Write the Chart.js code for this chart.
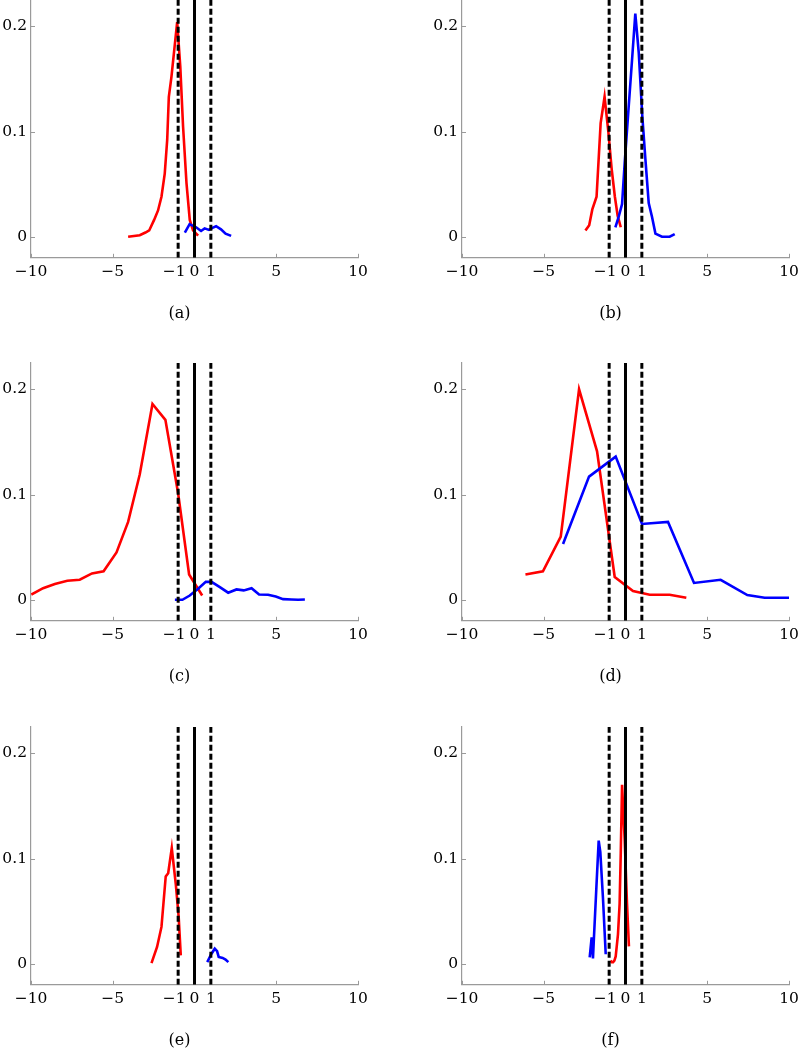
<!DOCTYPE html>
<html>
<head>
<meta charset="utf-8">
<script src="https://cdn.jsdelivr.net/npm/chart.js@4.4.0/dist/chart.umd.min.js"></script>
<style>
  html, body { margin: 0; padding: 0; background: #fff; }
  body { width: 800px; height: 1050px; overflow: hidden; position: relative; }
  canvas { position: absolute; }
</style>
</head>
<body>
<canvas id="pa"></canvas>
<canvas id="pb"></canvas>
<canvas id="pc"></canvas>
<canvas id="pd"></canvas>
<canvas id="pe"></canvas>
<canvas id="pf"></canvas>
<script>
// axes, shared by all six panels
const xTicks = [-10, -5, -1, 0, 1, 5, 10];
const yTicks = [0, 0.1, 0.2];
const xRange = [-10, 10];
const yRange = [-0.02, 0.225];
const dashedX = [-1, 1];
const solidX = [0];
const captions = ['(a)', '(b)', '(c)', '(d)', '(e)', '(f)'];

// (a)
const redAx = [-4.06, -3.35, -3.0, -2.77, -2.47, -2.23, -2.02, -1.82, -1.67, -1.57, -1.41, -1.06, -0.87, -0.70, -0.49, -0.29, -0.09, 0.22];
const redAy = [0.000, 0.0015, 0.004, 0.006, 0.016, 0.025, 0.038, 0.060, 0.092, 0.133, 0.152, 0.204, 0.162, 0.105, 0.051, 0.016, 0.006, 0.001];
const blueAx = [-0.59, -0.30, 0.10, 0.40, 0.62, 0.88, 1.10, 1.32, 1.62, 1.90, 2.24];
const blueAy = [0.004, 0.012, 0.009, 0.0055, 0.008, 0.0065, 0.0085, 0.010, 0.007, 0.003, 0.0008];

// (b)
const redBx = [-2.45, -2.22, -2.03, -1.77, -1.62, -1.52, -1.28, -1.05, -0.85, -0.65, -0.48, -0.29];
const redBy = [0.006, 0.011, 0.026, 0.038, 0.080, 0.108, 0.133, 0.100, 0.065, 0.038, 0.020, 0.009];
const blueBx = [-0.62, -0.42, -0.21, -0.05, 0.15, 0.40, 0.60, 0.81, 1.03, 1.22, 1.42, 1.62, 1.83, 2.23, 2.70, 3.01];
const blueBy = [0.009, 0.019, 0.031, 0.070, 0.114, 0.168, 0.212, 0.175, 0.114, 0.073, 0.032, 0.019, 0.003, 0.0, 0.0, 0.0026];

// (c)
const redCx = [-9.98, -9.26, -8.54, -7.78, -7.02, -6.27, -5.56, -4.77, -4.06, -3.35, -2.57, -1.78, -1.00, -0.33, 0.47];
const redCy = [0.005, 0.011, 0.015, 0.018, 0.019, 0.025, 0.027, 0.045, 0.074, 0.119, 0.186, 0.171, 0.101, 0.024, 0.004];
const blueCx = [-1.20, -0.74, -0.29, 0.22, 0.69, 1.04, 1.55, 2.06, 2.57, 3.01, 3.49, 3.95, 4.50, 4.97, 5.42, 5.93, 6.34, 6.75];
const blueCy = [0, 0, 0.004, 0.0105, 0.017, 0.017, 0.012, 0.0067, 0.0098, 0.0089, 0.011, 0.005, 0.0048, 0.0031, 0.0006, 0.0003, 0, 0.0002];

// (d)
const redDx = [-6.12, -5.05, -3.96, -2.84, -1.74, -0.66, 0.46, 1.48, 2.70, 3.72];
const redDy = [0.024, 0.027, 0.060, 0.200, 0.141, 0.0216, 0.0083, 0.0048, 0.0048, 0.0019];
const blueDx = [-3.82, -2.23, -0.60, 1.01, 2.60, 4.19, 5.82, 7.45, 8.51, 10.0];
const blueDy = [0.053, 0.117, 0.136, 0.072, 0.074, 0.016, 0.019, 0.0044, 0.0019, 0.0019];

// (e)
const redEx = [-2.63, -2.29, -2.02, -1.76, -1.61, -1.39, -1.14, -0.97, -0.84];
const redEy = [0.0006, 0.016, 0.035, 0.083, 0.086, 0.110, 0.075, 0.045, 0.008];
const blueEx = [0.78, 1.04, 1.24, 1.38, 1.48, 1.72, 1.90, 2.07];
const blueEy = [0.0015, 0.0095, 0.0143, 0.012, 0.0065, 0.0055, 0.004, 0.0015];

// (f)
const redFx = [-0.92, -0.84, -0.76, -0.68, -0.60, -0.46, -0.36, -0.29, -0.21, -0.05, 0.09, 0.21];
const redFy = [0.003, 0.0015, 0.0015, 0.003, 0.007, 0.028, 0.057, 0.105, 0.170, 0.118, 0.058, 0.0165];
const blueFx = [-2.19, -2.07, -1.99, -1.93, -1.78, -1.64, -1.54, -1.38, -1.21];
const blueFy = [0.006, 0.025, 0.005, 0.025, 0.073, 0.117, 0.106, 0.063, 0.009];

const FONT = 'DejaVu Serif';
const axisGray = '#9a9a9a';

function pts(xs, ys) {
    return xs.map((x, i) => ({ x: x, y: ys[i] }));
}

function guide(x, dashed) {
    return {
        data: [{ x: x, y: yRange[0] }, { x: x, y: yRange[1] }],
        borderColor: '#000',
        borderWidth: 3,
        borderDash: dashed ? [6, 3] : [],
        pointRadius: 0,
        tension: 0
    };
}

function curve(xs, ys, color) {
    return {
        data: pts(xs, ys),
        borderColor: color,
        borderWidth: 2.6,
        pointRadius: 0,
        tension: 0
    };
}

// x labels: minus sign, and a little room between -1 and 0 like the original
function xLabel(v) {
    if (v === -1) return '\u22121\u2002';
    return v < 0 ? '\u2212' + Math.abs(v) : String(v);
}

// small inward tick marks like the original plot
const innerTicks = {
    id: 'innerTicks',
    beforeDatasetsDraw(chart) {
        const { ctx, chartArea: a, scales: { x, y } } = chart;
        ctx.save();
        ctx.strokeStyle = axisGray;
        ctx.lineWidth = 1;
        ctx.beginPath();
        xTicks.forEach(v => {
            const px = Math.round(x.getPixelForValue(v)) + 0.5;
            ctx.moveTo(px, a.bottom);
            ctx.lineTo(px, a.bottom - 4);
        });
        yTicks.forEach(v => {
            const py = Math.round(y.getPixelForValue(v)) + 0.5;
            ctx.moveTo(a.left, py);
            ctx.lineTo(a.left + 4, py);
        });
        ctx.stroke();
        ctx.restore();
    }
};

function makePanel(id, idx, left, top, red, blue) {
    const canvas = document.getElementById(id);
    canvas.width = 378;
    canvas.height = 343;
    canvas.style.left = left + 'px';
    canvas.style.top = top + 'px';

    const datasets = [];
    dashedX.forEach(x => datasets.push(guide(x, true)));
    solidX.forEach(x => datasets.push(guide(x, false)));
    datasets.push(curve(blue[0], blue[1], '#0000ff'));
    datasets.push(curve(red[0], red[1], '#ff0000'));

    return new Chart(canvas.getContext('2d'), {
        type: 'line',
        data: { datasets: datasets },
        plugins: [innerTicks],
        options: {
            responsive: false,
            animation: false,
            devicePixelRatio: 1,
            layout: { padding: { left: 3, right: 18, top: 16, bottom: 0 } },
            plugins: {
                legend: { display: false },
                tooltip: { enabled: false },
                title: {
                    display: true,
                    position: 'bottom',
                    text: captions[idx],
                    color: '#000',
                    font: { family: FONT, size: 16, weight: 'normal' },
                    padding: { top: 16, bottom: 4 }
                }
            },
            scales: {
                x: {
                    type: 'linear',
                    min: xRange[0],
                    max: xRange[1],
                    grid: { display: false, drawTicks: false },
                    border: { display: true, color: axisGray, width: 1.2 },
                    afterBuildTicks: s => { s.ticks = xTicks.map(v => ({ value: v })); },
                    afterFit: s => { s.height = 30; },
                    ticks: {
                        autoSkip: false,
                        maxRotation: 0,
                        minRotation: 0,
                        padding: 5,
                        color: '#000',
                        font: { family: FONT, size: 15.5 },
                        callback: xLabel
                    }
                },
                y: {
                    min: yRange[0],
                    max: yRange[1],
                    grid: { display: false, drawTicks: false },
                    border: { display: true, color: axisGray, width: 1.2 },
                    afterBuildTicks: s => { s.ticks = yTicks.map(v => ({ value: v })); },
                    afterFit: s => { s.width = 30; },
                    ticks: {
                        padding: 4,
                        color: '#000',
                        font: { family: FONT, size: 15.5 },
                        callback: v => v === 0 ? '0' : v.toFixed(1)
                    }
                }
            }
        }
    });
}

makePanel('pa', 0, -2, -16, [redAx, redAy], [blueAx, blueAy]);
makePanel('pb', 1, 429, -16, [redBx, redBy], [blueBx, blueBy]);
makePanel('pc', 2, -2, 347, [redCx, redCy], [blueCx, blueCy]);
makePanel('pd', 3, 429, 347, [redDx, redDy], [blueDx, blueDy]);
makePanel('pe', 4, -2, 711, [redEx, redEy], [blueEx, blueEy]);
makePanel('pf', 5, 429, 711, [redFx, redFy], [blueFx, blueFy]);
</script>
</body>
</html>
